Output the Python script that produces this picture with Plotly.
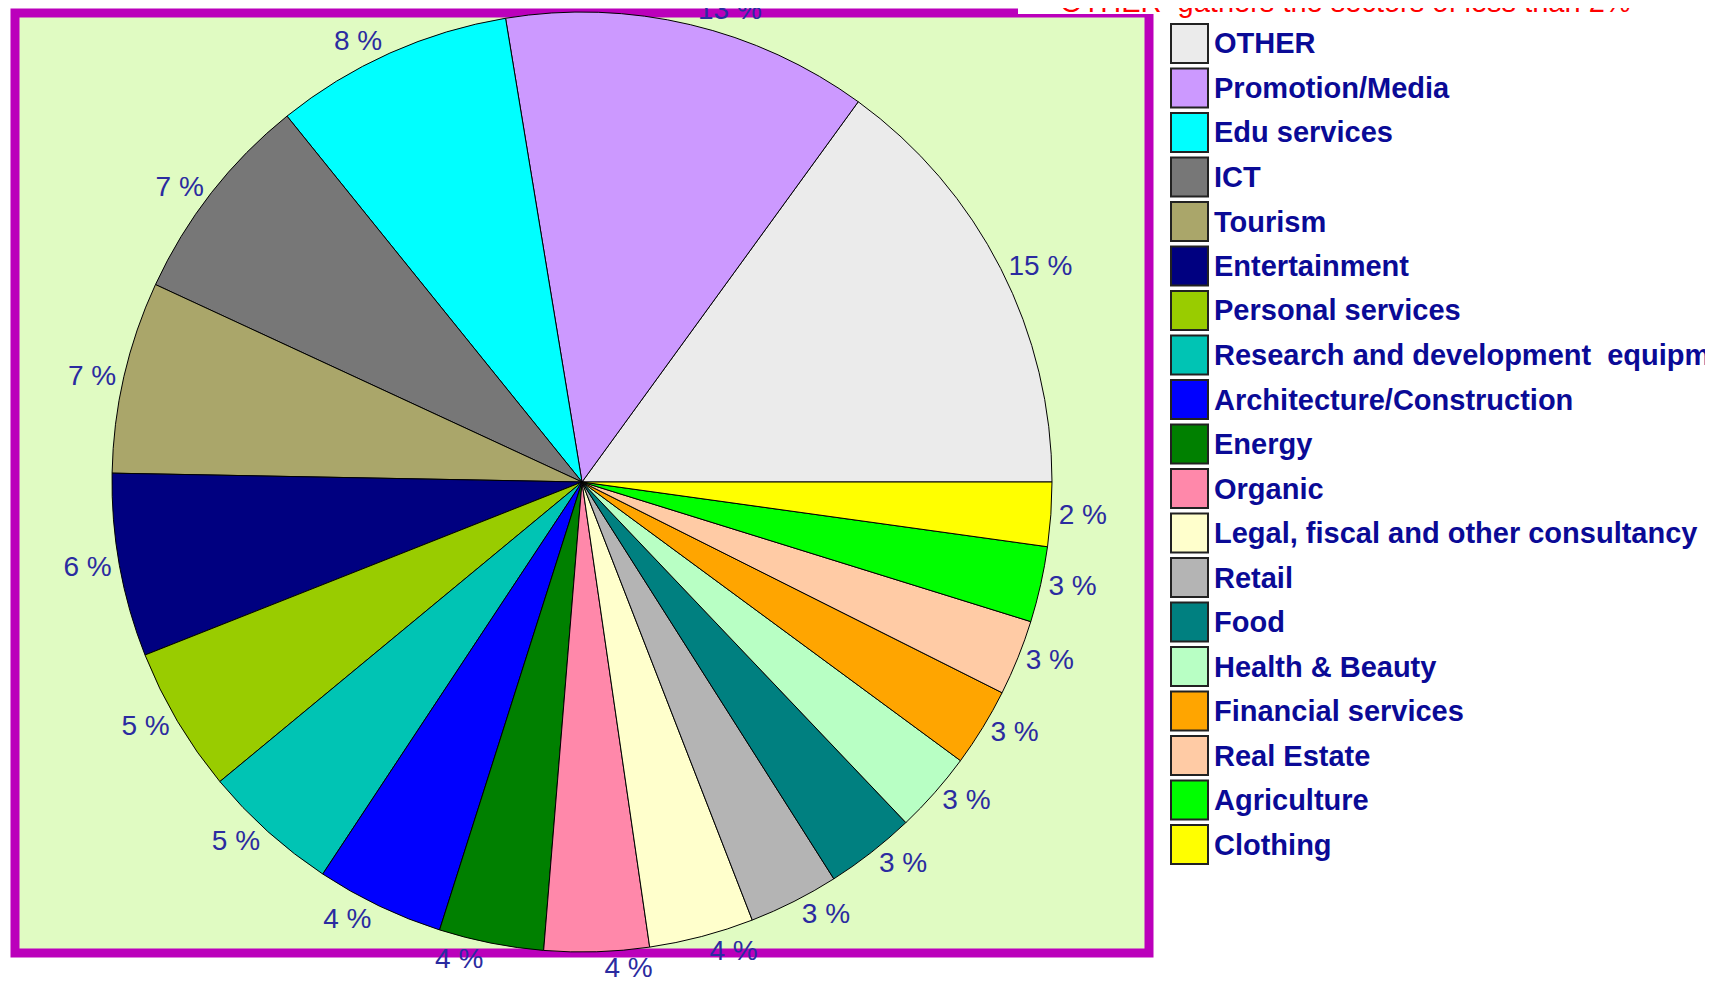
import plotly.graph_objects as go

# ---- data ----
sectors = ["OTHER", "Promotion/Media", "Edu services", "ICT", "Tourism", "Entertainment",
           "Personal services", "Research and development\u00a0 equipment",
           "Architecture/Construction", "Energy", "Organic",
           "Legal, fiscal and other consultancy", "Retail", "Food", "Health & Beauty",
           "Financial services", "Real Estate", "Agriculture", "Clothing"]
shares = [15.0, 12.6, 8.2, 7.3, 6.6, 6.3, 5.0, 4.7, 4.4, 3.6, 3.6, 3.6,
          3.1, 3.1, 2.8, 2.7, 2.6, 2.6, 2.2]
colors = ["#EBEBEB", "#CC99FF", "#00FFFF", "#777777", "#AAA66A", "#000080",
          "#99CC00", "#00C4B4", "#0000FF", "#008000", "#FF88AA", "#FFFFCC",
          "#B4B4B4", "#008080", "#B8FFC4", "#FFA500", "#FFCBA5", "#00FF00", "#FFFF00"]
note = "OTHER  gathers the sectors of less than 2%"
# label drawn without collision nudging (the reference lets it overlap freely)
free_label = "Organic"

W, H = 1713, 995
cx, cy, R = 574, 474, 470

# first slice starts at 3 o'clock and the slices run counter-clockwise
first_angle = 360.0 * shares[0] / sum(shares)
dom = dict(x=[(cx - R) / W, (cx + R) / W], y=[1 - (cy + R) / H, 1 - (cy - R) / H])
tfont = dict(family="Liberation Sans, Arial", size=28, color="#2B2BA0")

fig = go.Figure()
fig.add_trace(go.Pie(
    labels=sectors, values=shares, sort=False, direction="counterclockwise",
    rotation=90 - first_angle,
    marker=dict(colors=colors, line=dict(color="#000000", width=1)),
    textposition=["none" if s == free_label else "outside" for s in sectors],
    texttemplate="%{value:.0f} %", textfont=tfont,
    showlegend=False, hoverinfo="label+percent", domain=dom,
))
fig.add_trace(go.Pie(
    labels=sectors, values=shares, sort=False, direction="counterclockwise",
    rotation=90 - first_angle,
    marker=dict(colors=["rgba(0,0,0,0)"] * len(sectors), line=dict(width=0)),
    textposition=["outside" if s == free_label else "none" for s in sectors],
    texttemplate="%{value:.0f} %", textfont=tfont,
    showlegend=False, hoverinfo="skip", domain=dom,
))

shapes = []
# frame
shapes.append(dict(type="rect", xref="paper", yref="paper",
                   x0=7 / W, x1=1141 / W, y0=1 - 945 / H, y1=1 - 5 / H,
                   fillcolor="#E0FBC2", line=dict(color="#BB00BB", width=9), layer="below"))
# white box behind the note
shapes.append(dict(type="rect", xref="paper", yref="paper",
                   x0=1010 / W, x1=1.0, y0=1 - 6 / H, y1=1.0,
                   fillcolor="#FFFFFF", line=dict(width=0), layer="above"))

annotations = [dict(text=note, xref="paper", yref="paper", x=1050 / W, y=1 + 6 / H,
                    xanchor="left", yanchor="middle", showarrow=False,
                    font=dict(family="Liberation Sans, Arial", size=29, color="#FF0000"))]

# custom legend
top0, pitch, box = 16, 44.5, 39
for i, (name, col) in enumerate(zip(sectors, colors)):
    t = top0 + pitch * i
    shapes.append(dict(type="rect", xref="paper", yref="paper",
                       x0=1163 / W, x1=1200 / W, y0=1 - (t + box) / H, y1=1 - t / H,
                       fillcolor=col, line=dict(color="#222222", width=2), layer="above"))
    annotations.append(dict(text=name, xref="paper", yref="paper",
                            x=1204 / W, y=1 - (t + box / 2) / H,
                            xanchor="left", yanchor="middle", showarrow=False,
                            font=dict(family="Liberation Sans, Arial", size=29, color="#0A0A96",
                                      weight="bold")))

fig.update_layout(width=W, height=H, margin=dict(l=0, r=0, t=0, b=0, autoexpand=False),
                  paper_bgcolor="#FFFFFF", plot_bgcolor="#FFFFFF",
                  shapes=shapes, annotations=annotations)
fig.write_html("out.html")
